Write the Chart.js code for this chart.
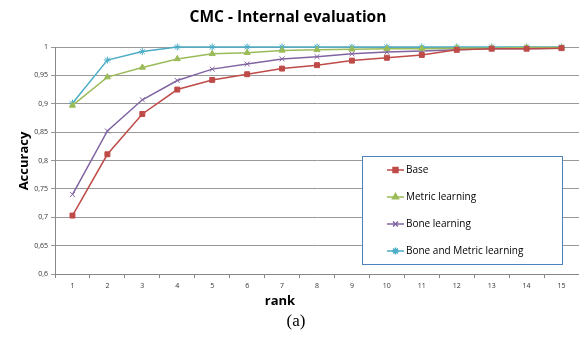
<!DOCTYPE html>
<html>
<head>
<meta charset="utf-8">
<script src="https://cdn.jsdelivr.net/npm/chart.js@4/dist/chart.umd.min.js"></script>
<style>
  html, body { margin: 0; padding: 0; background: #fff; }
  #wrap { position: relative; width: 579px; height: 339px; }
</style>
</head>
<body>
<div id="wrap"><canvas id="cmcChart" width="579" height="339"></canvas></div>
<script>
// Dữ liệu biểu đồ
const ranks = ["1", "2", "3", "4", "5", "6", "7", "8", "9", "10", "11", "12", "13", "14", "15"]
const seriesNames = ["Base", "Metric learning", "Bone learning", "Bone and Metric learning"]
const baseValues = [0.703, 0.811, 0.882, 0.925, 0.942, 0.952, 0.962, 0.968, 0.976, 0.981, 0.986, 0.995, 0.997, 0.997, 0.998]
const metricValues = [0.897, 0.947, 0.964, 0.979, 0.988, 0.990, 0.994, 0.995, 0.996, 0.997, 0.997, 0.998, 0.998, 0.999, 0.999]
const boneValues = [0.740, 0.852, 0.907, 0.941, 0.961, 0.970, 0.979, 0.983, 0.988, 0.991, 0.993, 0.995, 0.997, 0.997, 0.998]
const boneMetricValues = [0.901, 0.977, 0.992, 1.0, 1.0, 1.0, 1.0, 1.0, 1.0, 1.0, 1.0, 1.0, 1.0, 1.0, 1.0]
const yTicks = [0.6, 0.65, 0.7, 0.75, 0.8, 0.85, 0.9, 0.95, 1]

const colors = ["#BE4B48", "#9BBB59", "#8064A2", "#4BACC6"]
const pointStyles = ["rect", "triangle", "crossRot", "star"]
const allValues = [baseValues, metricValues, boneValues, boneMetricValues]

const fmt = (v) => String(Math.round(v * 100) / 100).replace(".", ",")

// Plugin vẽ tiêu đề, nhãn trục và chú giải
const decorations = {
  id: "decorations",
  afterDraw(chart) {
    const ctx = chart.ctx
    ctx.save()
    ctx.fillStyle = "#000"
    ctx.textAlign = "center"
    ctx.textBaseline = "middle"
    ctx.font = "bold 15.5px 'Open Sans'"
    ctx.fillText("CMC - Internal evaluation", 288, 18)
    ctx.font = "bold 13px 'Open Sans'"
    ctx.fillText("rank", 280, 301)
    ctx.save()
    ctx.translate(24, 161)
    ctx.rotate(-Math.PI / 2)
    ctx.fillText("Accuracy", 0, 0)
    ctx.restore()
    ctx.font = "17px 'Liberation Serif'"
    ctx.fillText("(a)", 296, 322)

    // chú giải
    ctx.fillStyle = "#fff"
    ctx.fillRect(362, 156, 200, 108)
    ctx.strokeStyle = "#4F81BD"
    ctx.lineWidth = 1
    ctx.strokeRect(362.5, 156.5, 200, 108)
    ctx.font = "10px 'Open Sans'"
    ctx.textAlign = "left"
    seriesNames.forEach((name, i) => {
      const y = 170 + i * 27
      ctx.strokeStyle = colors[i]
      ctx.lineWidth = 1.5
      ctx.beginPath()
      ctx.moveTo(387, y)
      ctx.lineTo(404, y)
      ctx.stroke()
      ctx.fillStyle = colors[i]
      Chart.helpers.drawPoint(ctx, { pointStyle: pointStyles[i], radius: 3.5, borderWidth: 1 }, 395.5, y)
      ctx.fillStyle = "#000"
      ctx.fillText(name, 406, y)
    })
    ctx.restore()
  },
}

new Chart(document.getElementById("cmcChart"), {
  type: "line",
  data: {
    labels: ranks,
    datasets: allValues.map((vals, i) => ({
      label: seriesNames[i],
      data: vals,
      borderColor: colors[i],
      backgroundColor: colors[i],
      pointStyle: pointStyles[i],
      pointRadius: 3.5,
      pointBorderWidth: 1,
      borderWidth: 1.5,
      tension: 0,
      clip: false,
    })),
  },
  options: {
    responsive: false,
    animation: false,
    layout: { autoPadding: false, padding: { top: 47, left: 0, right: 0, bottom: 0 } },
    plugins: {
      legend: { display: false },
      title: { display: false },
      tooltip: { enabled: false },
    },
    scales: {
      x: {
        offset: true,
        afterFit: (scale) => { scale.height = 65 },
        grid: { drawOnChartArea: false, drawTicks: true, tickLength: 4, offset: true, color: "#888" },
        border: { color: "#888" },
        ticks: { font: { size: 7, family: "'Open Sans'" }, color: "#333", padding: 4, maxRotation: 0, autoSkip: false },
      },
      y: {
        min: 0.6,
        max: 1,
        afterFit: (scale) => { scale.width = 55 },
        afterBuildTicks: (scale) => { scale.ticks = yTicks.map((v) => ({ value: v })) },
        grid: { color: "#999", tickLength: 4, lineWidth: 1 },
        border: { color: "#888" },
        ticks: { font: { size: 7, family: "'Open Sans'" }, color: "#333", padding: 3, callback: (v) => fmt(v) },
      },
    },
  },
  plugins: [decorations],
})
</script>
</body>
</html>
